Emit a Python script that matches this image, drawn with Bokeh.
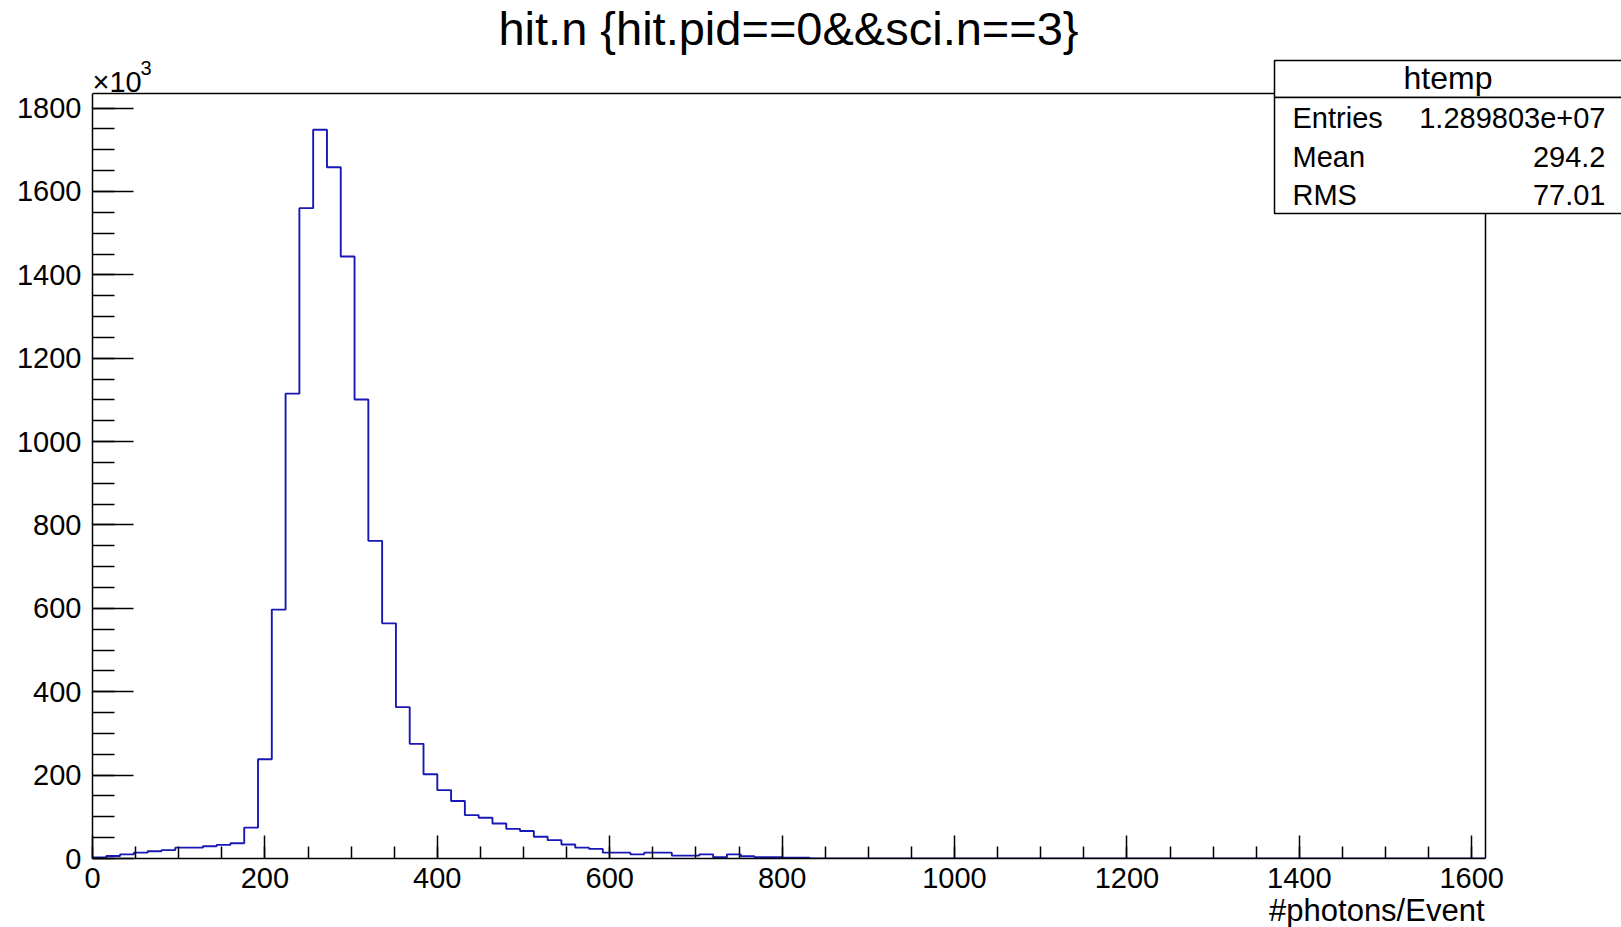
from bokeh.plotting import figure
from bokeh.models import Range1d, SingleIntervalTicker, Label, BoxAnnotation, Title
from bokeh.embed import file_html
from bokeh.resources import INLINE

# ---- data ----
bin_width = 16
bin_start = 0
n_bins = 101
# counts per bin in thousands (x10^3), bins of width 16 starting at 0
counts_k = [2.4, 6, 10, 14, 17.5, 20, 26, 26, 29.5, 32.6,
            36.7, 74, 238, 597, 1115, 1560, 1748, 1658, 1444, 1101,
            762, 564, 363, 275, 202, 164, 138, 104, 97.6, 84,
            71, 66, 52, 44, 33.5, 26, 23, 14, 14, 10,
            14, 14, 7, 7, 10, 3, 10, 5.5, 3, 3,
            2, 2]
x_ticks_step = 200
y_ticks_step = 200
title_text = "hit.n {hit.pid==0&&sci.n==3}"
x_title = "#photons/Event"
stats_name = "htemp"
stats_rows = [("Entries", "1.289803e+07"), ("Mean", "294.2"), ("RMS", "77.01")]

x_max = bin_start + n_bins * bin_width
y_max = 1835

# step outline built from the bin arrays
xs, ys = [bin_start], [0]
for i, c in enumerate(counts_k):
    lo = bin_start + i * bin_width
    hi = lo + bin_width
    xs += [lo, hi]
    ys += [c, c]
xs += [xs[-1], x_max]
ys += [0, 0]

FONT = "Liberation Sans"

W, H = 1621, 927
# ROOT frame in page pixels
FL, FR, FT, FB = 92, 1485, 93, 858
# Bokeh frame extends to the top and right edges of the canvas so that
# the title and the statistics box can be drawn inside it
x_end = x_max * (W - FL) / (FR - FL)
y_end = y_max * FB / (FB - FT)

p = figure(width=W, height=H, output_backend="svg", toolbar_location=None,
           x_range=Range1d(bin_start, x_end), y_range=Range1d(0, y_end),
           min_border_left=FL, min_border_right=0,
           min_border_top=0, min_border_bottom=H - FB)
p.xgrid.visible = False
p.ygrid.visible = False
p.outline_line_color = None
p.background_fill_color = "white"
p.border_fill_color = "white"

# ROOT frame: top and right edges
p.segment(x0=[bin_start, x_max], y0=[y_max, 0], x1=[x_max, x_max], y1=[y_max, y_max],
          line_color="black", line_width=1.5)

p.line(xs, ys, line_color="#1818b4", line_width=1.9)

for ax, step, major_in, minor_in, bnds in ((p.xaxis[0], x_ticks_step, 23, 12, (bin_start, x_max)),
                                           (p.yaxis[0], y_ticks_step, 41, 22, (0, y_max))):
    ax.ticker = SingleIntervalTicker(interval=step, num_minor_ticks=4)
    ax.bounds = bnds
    ax.major_tick_in = major_in
    ax.major_tick_out = 0
    ax.minor_tick_in = minor_in
    ax.minor_tick_out = 0
    ax.axis_line_color = "black"
    ax.axis_line_width = 1.5
    ax.major_tick_line_color = "black"
    ax.minor_tick_line_color = "black"
    ax.major_tick_line_width = 1.5
    ax.minor_tick_line_width = 1.5
    ax.major_label_text_font = FONT
    ax.major_label_text_font_size = "29px"
    ax.major_label_text_color = "black"
p.xaxis.major_label_standoff = 9
p.yaxis.major_label_standoff = 11

# x axis title, right aligned at the end of the axis
p.add_layout(Title(text=x_title, align="right", offset=W - 1484, standoff=0,
                   text_font=FONT, text_font_size="31px", text_font_style="normal",
                   text_color="black"), "below")


def dx(px):
    return (px - FL) / (FR - FL) * x_max


def dy(py):
    return (FB - py) / (FB - FT) * y_max


def lab(text, px, py, size, align="left"):
    p.add_layout(Label(x=dx(px), y=dy(py), text=text, text_font=FONT,
                       text_font_size=size, text_align=align,
                       text_baseline="middle", text_color="black"))


# stats box
box_l, box_r, box_t, box_m, box_b = 1274, 1650, 60, 97, 213
for t, b in ((box_t, box_m), (box_m, box_b)):
    p.add_layout(BoxAnnotation(left=dx(box_l), right=dx(box_r), top=dy(t), bottom=dy(b),
                               fill_color="white", fill_alpha=1.0, line_color="black",
                               line_width=1.5, line_alpha=1.0))

# title
lab(title_text, 788, 28, "47px", align="center")
# x10^3 multiplier
lab("\u00d710", 92, 81, "29px")
lab("3", 140, 67, "20px")

lab(stats_name, (box_l + 1621) / 2, 77, "32px", align="center")
for (name, val), yc in zip(stats_rows, (117, 156, 194)):
    lab(name, 1292, yc, "29px")
    lab(val, 1605, yc, "29px", align="right")

open("out.html", "w").write(file_html(p, INLINE))
